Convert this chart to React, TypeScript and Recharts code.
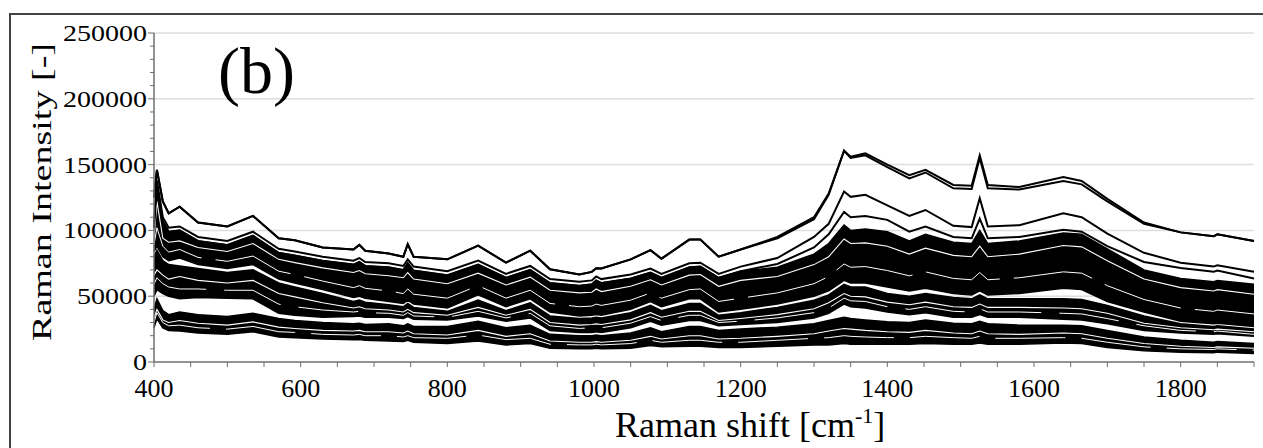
import { Area, CartesianGrid, ComposedChart, Line, XAxis, YAxis } from "recharts"

// Raman spectra, intensities in thousands of counts
const WAVENUMBERS = [400, 404, 412, 420, 435, 460, 500, 535, 570, 592, 630, 672, 680, 688, 720, 740, 746, 754, 800, 842, 880, 913, 940, 980, 997, 1003, 1010, 1050, 1077, 1092, 1130, 1145, 1170, 1200, 1250, 1300, 1320, 1341, 1350, 1370, 1400, 1430, 1452, 1490, 1515, 1526, 1537, 1580, 1640, 1665, 1700, 1750, 1800, 1845, 1850, 1900]

const TOP_A = [125, 146, 122, 113, 118, 106, 103, 111, 94, 92.5, 87, 85.5, 89, 84.5, 82.5, 80, 89.5, 80, 78, 88.4, 75.5, 84.6, 70.5, 66.5, 68.5, 71.2, 71, 78, 85, 78.5, 93, 93, 80, 85.5, 95, 110, 128, 160.5, 156, 158.5, 150, 142, 146, 134.5, 134, 157, 134.5, 133, 140.5, 137.5, 124, 106, 98.5, 95.5, 97, 92]
const TOP_B = [125, 146, 122, 113, 118, 106, 103, 111, 94, 92.5, 87, 85.5, 89, 84.5, 82.5, 80, 89.5, 80, 78, 88.4, 75.5, 84.6, 70.5, 66.5, 68.5, 71.2, 71, 78, 85, 78.5, 93, 93, 80, 85.5, 94, 108.5, 127, 160.5, 155, 157, 148, 139.5, 144, 132, 131.5, 155, 132, 131, 137.5, 135, 122, 105, 98.5, 95.5, 97, 92]
const SECOND = [105, 138, 110, 102, 103, 95, 92, 99, 86, 84, 80, 77, 79, 76, 75, 73, 78, 72.5, 69, 77, 67, 73, 63, 61, 62, 65, 63, 66.5, 71, 67, 75, 75.5, 67, 72.5, 79, 95, 105, 129.5, 125.5, 127, 119, 111, 115.5, 103.5, 102.5, 124.5, 103, 104, 113, 110, 97.5, 83, 75.5, 72.5, 73.5, 68.5]
const THIRD = [102, 135, 107, 99, 100, 92, 89, 96, 83, 81, 77, 74, 76, 73, 72, 70, 75, 69.5, 66, 74, 64, 70, 60, 58, 59, 62, 60, 63.5, 68, 64, 72, 72.5, 64, 69, 74.5, 87, 97, 114, 110, 111, 108, 99, 103, 95, 94, 109, 94, 95, 100.5, 99, 88, 76, 71.5, 68.5, 69.5, 63.5]

// dense bundles of spectra: upper / middle / lower black band edges
const UPPER_HI = [102, 135, 107, 99, 100, 92, 89, 96, 83, 81, 77, 74, 76, 73, 72, 70, 75, 69.5, 66, 74, 64, 70, 60, 58, 59, 62, 60, 63.5, 68, 64, 72, 72.5, 64, 69, 72, 82, 90, 104, 100, 101, 99, 92, 97, 91, 90, 100, 90, 92, 98, 97, 86, 70, 63.5, 61, 62, 59]
const UPPER_LO = [84, 88, 80, 77, 79, 74, 71, 74, 63, 60, 55, 49, 50, 48.5, 46, 44.5, 47, 44, 41, 51, 42, 48, 38, 35, 35.5, 36, 35.5, 40, 46, 42, 48, 48, 38, 40, 44, 50, 54, 62, 60, 60, 57, 54, 56, 52, 51, 54, 51, 52, 56, 55, 46, 38, 31, 29, 29.5, 27]
const MID_HI = [80, 85, 77, 74, 73, 71, 68, 70, 60, 57, 52, 46, 47, 45.5, 43.5, 42, 44.5, 41.5, 38.5, 47, 39, 45, 35, 33, 33.5, 34, 33.5, 37.5, 43, 39, 44.5, 44.5, 35.5, 37.5, 41.5, 47, 51, 59, 57, 57, 52, 50, 52, 49, 48, 51, 48, 48, 48, 47.5, 43, 35, 29, 27, 27.5, 25]
const MID_LO = [50, 55, 52, 50, 48, 49, 48.5, 48, 37, 35.5, 34, 34.5, 35, 34, 34, 33, 34.5, 32.5, 32, 35, 31, 33.5, 24, 22.5, 22.5, 23, 22.5, 26, 31, 28, 31.5, 31.5, 27.5, 28.5, 30, 33.5, 37, 44, 42, 41, 38, 36, 37.5, 34, 34, 36, 34, 34, 32.5, 32, 29, 24, 22, 21, 21.5, 19.5]
const LOW_HI = [40, 48, 39, 36, 38, 36, 34.5, 37, 33, 31.5, 30, 29, 29.5, 28.5, 29, 27.5, 29, 27, 27, 31, 26, 28, 21, 20, 20, 20.5, 20, 22, 26, 23, 27, 27, 24, 25, 26.5, 29, 31.5, 34, 33, 32, 30.5, 30, 32, 29.5, 29, 31, 29, 28, 28, 27.5, 24, 19, 16.5, 15, 15.5, 14]
const LOW_LO = [26, 33, 26, 24, 23.5, 22, 21, 23, 19, 18.5, 17.5, 17, 17, 16.5, 16, 15.5, 16.5, 15, 14, 16, 13, 14, 10.5, 10, 10, 10.5, 10, 10.5, 12.5, 11.5, 12, 12, 11, 11, 12, 13, 13, 14, 13.5, 13.5, 13.5, 13.5, 14, 13.5, 13.5, 14.5, 13.5, 13.5, 14.5, 14, 11, 8.5, 7.5, 7, 7.5, 6.5]

// white gaps between neighbouring spectra inside the bands
const UPPER_STREAK = [93, 122, 94, 91, 92, 87, 84, 90, 78, 75.5, 71.5, 68, 69.5, 67, 65.5, 64, 68, 63, 59.5, 67.5, 58.5, 64.5, 54.5, 52.5, 53, 55.5, 53.5, 57.5, 62.5, 58.5, 66, 66.5, 57.5, 62, 65, 74, 80, 93.5, 90, 90.5, 88, 82, 86.5, 81, 80, 88, 80, 82, 88.5, 87.5, 77, 63, 56.5, 54, 55, 51.5]
const UPPER_STREAK_2 = [89, 102, 88, 83.5, 85.5, 79.5, 76.5, 80.5, 69, 66.5, 61.5, 56.5, 58, 56, 54, 52, 55.5, 51.5, 48.5, 58, 48.5, 54.5, 44.5, 42, 42.5, 44, 43, 47, 52.5, 48.5, 55, 55.5, 46, 48.5, 52.5, 59.5, 65, 74.5, 72, 72.5, 69.5, 65.5, 68.5, 63.5, 62.5, 68, 62.5, 64, 68.5, 67.5, 58, 47.5, 41, 38.5, 39.5, 36.5]
const MID_STREAK = [66, 70, 66, 63, 65, 62, 60, 62, 52, 49.5, 45, 41, 42, 40.5, 39.5, 38, 40, 37.5, 35.5, 41.5, 35.5, 40, 30, 28, 28.5, 29, 28.5, 32, 37.5, 34, 38.5, 38.5, 31.5, 33, 36, 40.5, 45, 52, 50, 49.5, 45.5, 43.5, 45.5, 42, 41.5, 44, 41.5, 41.5, 41, 40.5, 37, 29.5, 26, 24.5, 25, 23]
const MID_STREAK_2 = [59, 64, 59.5, 57, 55.5, 55.5, 54.5, 54.5, 44, 42, 39.5, 38, 38.5, 37.5, 37, 35.5, 37.5, 35, 34, 38.5, 33.5, 37, 27.5, 25.5, 26, 26.5, 26, 29.5, 34.5, 31.5, 35.5, 35.5, 30, 31, 33.5, 37.5, 41, 48.5, 46.5, 46, 42, 40, 42, 38.5, 38, 40.5, 38, 38, 37, 36.5, 33, 27.5, 24, 23, 23.5, 21]
const LOW_STREAK = [33, 40, 32, 30, 31.5, 29.5, 28, 30.5, 26.5, 25.5, 24, 23.5, 24, 23, 23, 22, 23.5, 21.5, 20.5, 24, 19.5, 21.5, 16, 15, 15, 15.5, 15, 16.5, 19.5, 17.5, 20, 20, 17.5, 18, 19.5, 21.5, 23.5, 25.5, 25, 24, 23, 22.5, 24, 22, 21.5, 23.5, 21.5, 21, 22, 21.5, 18, 14, 12, 11, 11.5, 10.5]
const LOW_STREAK_2 = [30, 37.5, 30, 27.5, 28, 26, 25, 27, 23, 22.5, 21, 20.5, 21, 20, 20, 19, 20, 18.5, 18, 20.5, 17, 18, 13.5, 13, 13, 13.5, 13, 14, 16.5, 15, 16.5, 16.5, 15, 15, 16.5, 18, 18.5, 20, 19.5, 19, 18.5, 18.5, 19.5, 18.5, 18, 19.5, 18, 18, 18.5, 18, 15, 11.5, 10, 9.5, 10, 9]

const X_TICKS = [400, 450, 500, 550, 600, 650, 700, 750, 800, 850, 900, 950, 1000, 1050, 1100, 1150, 1200, 1250, 1300, 1350, 1400, 1450, 1500, 1550, 1600, 1650, 1700, 1750, 1800, 1850, 1900]
const X_LABELS = [400, 600, 800, 1000, 1200, 1400, 1600, 1800]
const Y_TICKS = [0, 10000, 20000, 30000, 40000, 50000, 60000, 70000, 80000, 90000, 100000, 110000, 120000, 130000, 140000, 150000, 160000, 170000, 180000, 190000, 200000, 210000, 220000, 230000, 240000, 250000]
const Y_LABELS = [0, 50000, 100000, 150000, 200000, 250000]

const K = 1000
const SERIF = "'Liberation Serif', 'Times New Roman', Times, serif"
const TICK_COLOR = "#6f6f6f"

const rows = WAVENUMBERS.map((wn, i) => ({
  wn,
  topA: TOP_A[i] * K,
  topB: TOP_B[i] * K,
  second: SECOND[i] * K,
  third: THIRD[i] * K,
  upper: [UPPER_LO[i] * K, UPPER_HI[i] * K],
  mid: [MID_LO[i] * K, MID_HI[i] * K],
  low: [LOW_LO[i] * K, LOW_HI[i] * K],
  upperStreak: UPPER_STREAK[i] * K,
  upperStreak2: UPPER_STREAK_2[i] * K,
  midStreak: MID_STREAK[i] * K,
  midStreak2: MID_STREAK_2[i] * K,
  lowStreak: LOW_STREAK[i] * K,
  lowStreak2: LOW_STREAK_2[i] * K,
}))

function XTick(props: any) {
  const { x, y, payload } = props
  const v = payload.value
  const labelled = X_LABELS.includes(v)
  return (
    <g>
      <line x1={x} x2={x} y1={y} y2={y + 5} stroke={TICK_COLOR} strokeWidth={1} />
      {labelled && (
        <text x={x} y={y + 35} textAnchor="middle" style={{ fontFamily: SERIF, fontSize: 26 }} fill="#000">
          {v}
        </text>
      )}
    </g>
  )
}

function YTick(props: any) {
  const { x, y, payload } = props
  const v = payload.value
  const labelled = Y_LABELS.includes(v)
  const s = String(v)
  return (
    <g>
      <line x1={x} x2={x - (labelled ? 6 : 4)} y1={y} y2={y} stroke={TICK_COLOR} strokeWidth={1} />
      {labelled && (
        <text
          x={x - 7}
          y={y + 8}
          textAnchor="end"
          style={{ fontFamily: SERIF, fontSize: 24 }}
          fill="#000"
          textLength={14 * s.length}
          lengthAdjust="spacingAndGlyphs"
        >
          {s}
        </text>
      )}
    </g>
  )
}

const band = (key: string) => (
  <Area
    key={key}
    type="linear"
    dataKey={key}
    stroke="#000"
    strokeWidth={1.5}
    fill="#000"
    fillOpacity={1}
    dot={false}
    activeDot={false}
    isAnimationActive={false}
  />
)

const trace = (key: string, color: string, width: number, dash?: string) => (
  <Line
    key={key}
    type="linear"
    dataKey={key}
    stroke={color}
    strokeWidth={width}
    strokeDasharray={dash}
    dot={false}
    activeDot={false}
    isAnimationActive={false}
  />
)

export default function App() {
  return (
    <div style={{ position: "absolute", left: 0, top: 0, width: 1263, height: 448, background: "#fff", overflow: "hidden" }}>
      <div
        style={{
          position: "absolute",
          left: 9,
          top: 13,
          right: 0,
          bottom: -4,
          borderLeft: "2px solid #444",
          borderTop: "2px solid #444",
        }}
      />
      <div style={{ position: "absolute", left: 0, top: 0 }}>
        <ComposedChart width={1263} height={448} data={rows} margin={{ top: 33, right: 9, bottom: 46, left: 74 }}>
          <CartesianGrid vertical={false} horizontalValues={[50000, 100000, 150000, 200000, 250000]} stroke="#dedede" strokeWidth={1.5} />
          <XAxis
            dataKey="wn"
            type="number"
            domain={[400, 1900]}
            ticks={X_TICKS}
            interval={0}
            height={40}
            tickSize={0}
            tickMargin={0}
            tickLine={false}
            axisLine={{ stroke: TICK_COLOR, strokeWidth: 1.5 }}
            tick={XTick}
          />
          <YAxis
            type="number"
            domain={[0, 250000]}
            ticks={Y_TICKS}
            interval={0}
            width={80}
            tickSize={0}
            tickMargin={0}
            tickLine={false}
            axisLine={{ stroke: TICK_COLOR, strokeWidth: 1.5 }}
            tick={YTick}
          />
          {band("upper")}
          {band("mid")}
          {band("low")}
          {trace("upperStreak", "#fff", 1.1)}
          {trace("upperStreak2", "#fff", 1, "80 14")}
          {trace("midStreak", "#fff", 1.1)}
          {trace("midStreak2", "#fff", 1, "60 18")}
          {trace("lowStreak", "#fff", 1.1)}
          {trace("lowStreak2", "#fff", 1, "70 16")}
          {trace("third", "#000", 2)}
          {trace("second", "#000", 2)}
          {trace("topB", "#000", 2)}
          {trace("topA", "#000", 2)}
        </ComposedChart>
      </div>
      <svg width={1263} height={448} style={{ position: "absolute", left: 0, top: 0, pointerEvents: "none" }}>
        <text x={218} y={93} style={{ fontFamily: SERIF, fontSize: 66 }} fill="#000">
          (b)
        </text>
        <text
          transform="translate(51,192) rotate(-90)"
          textAnchor="middle"
          style={{ fontFamily: SERIF, fontSize: 28 }}
          fill="#000"
          textLength={298}
          lengthAdjust="spacingAndGlyphs"
        >
          Raman Intensity [-]
        </text>
        <text x={615} y={437} style={{ fontFamily: SERIF, fontSize: 36 }} fill="#000">
          Raman shift [cm
          <tspan fontSize={22} dy={-14}>
            -1
          </tspan>
          <tspan dy={14}>]</tspan>
        </text>
      </svg>
    </div>
  )
}
